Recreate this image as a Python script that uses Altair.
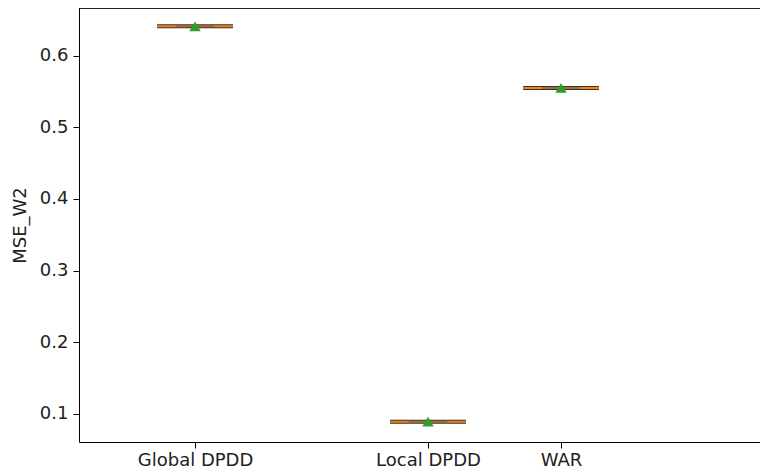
import altair as alt
import pandas as pd

categories = ["Global DPDD", "Local DPDD", "WAR"]
positions = [1.0, 2.0, 2.571]
medians = [0.641, 0.089, 0.555]
means = [0.641, 0.089, 0.555]
y_ticks = [0.1, 0.2, 0.3, 0.4, 0.5, 0.6]

W, H = 681, 434
BOX_HALF = 0.163
CAP_HALF = 0.082
XMIN, XMAX = 0.502, 3.425
YMIN, YMAX = 0.0606, 0.6666

df = pd.DataFrame({"cat": categories, "pos": positions, "med": medians, "mean": means})

label_expr = " : ".join(
    f"datum.value == {p} ? '{c}'" for p, c in zip(positions, categories)
) + " : ''"

font = "DejaVu Sans"
FS = 18
xs = alt.Scale(domain=[XMIN, XMAX], nice=False, zero=False)
ys = alt.Scale(domain=[YMIN, YMAX], nice=False, zero=False)

base = alt.Chart(df).transform_calculate(
    x0=f"datum.pos - {BOX_HALF}", x1=f"datum.pos + {BOX_HALF}",
    c0=f"datum.pos - {CAP_HALF}", c1=f"datum.pos + {CAP_HALF}",
)

xaxis = alt.Axis(values=positions, labelExpr=label_expr, title=None, grid=False,
                 domainColor="black", tickColor="black", tickSize=6,
                 labelFont=font, labelFontSize=FS, labelColor="#222", labelPadding=3)
yaxis = alt.Axis(values=y_ticks, format=".1f", title="MSE_W2", grid=False,
                 domainColor="black", tickColor="black", tickSize=6,
                 labelFont=font, labelFontSize=FS, labelColor="#222", labelPadding=5,
                 titleFont=font, titleFontSize=FS, titleFontWeight="normal",
                 titleColor="#222", titlePadding=10)

outline = base.mark_rule(color="#333", strokeWidth=4).encode(
    x=alt.X("x0:Q", scale=xs, axis=xaxis),
    x2="x1:Q",
    y=alt.Y("med:Q", scale=ys, axis=yaxis),
)
median = base.mark_rule(color="#ff7f0e", strokeWidth=2).encode(
    x=alt.X("x0:Q", scale=xs), x2="x1:Q", y=alt.Y("med:Q", scale=ys)
)
caps = base.mark_rule(color="#555", strokeWidth=2, opacity=0.5).encode(
    x=alt.X("c0:Q", scale=xs), x2="c1:Q", y=alt.Y("med:Q", scale=ys)
)
mean_pt = base.mark_point(shape="triangle-up", filled=True, color="#2ca02c",
                          size=130, opacity=1).encode(
    x=alt.X("pos:Q", scale=xs), y=alt.Y("mean:Q", scale=ys)
)
top = alt.Chart(df).mark_rule(color="black", strokeWidth=1).encode(
    x=alt.value(0), x2=alt.value(W), y=alt.value(0)
)

chart = alt.layer(outline, median, caps, mean_pt, top).properties(
    width=W, height=H,
    autosize=alt.AutoSizeParams(type="none"),
    padding={"left": 71, "top": 0, "right": 0, "bottom": 34},
).configure_view(stroke=None)

chart.save("out.html", embed_options={"renderer": "svg", "actions": False})
